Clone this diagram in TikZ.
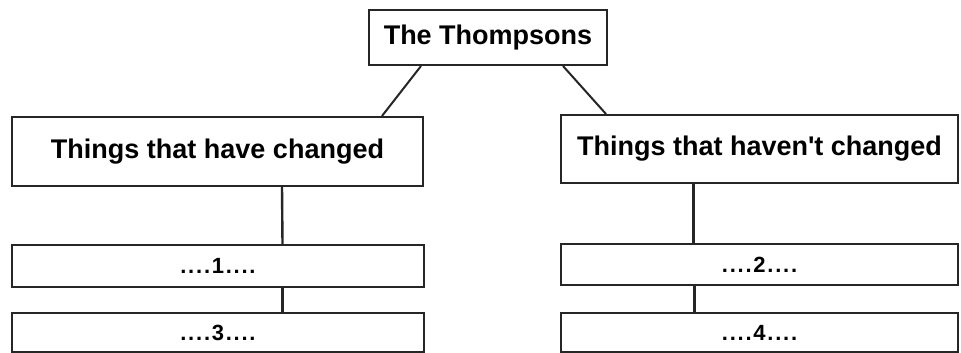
\documentclass[tikz,border=0pt]{standalone}
\usepackage{fontspec}
\setmainfont{Liberation Sans}
\newfontfamily\straightfont[Ligatures=TeXOff]{Liberation Sans}
\begin{document}
\begin{tikzpicture}[x=1pt,y=-1pt,
  box/.style={draw=black!85, line width=2pt, inner sep=0pt, fill=white, font=\bfseries},
  big/.style={box, font=\fontsize{27}{30}\selectfont\bfseries},
  small/.style={box, font=\fontsize{22}{24}\selectfont\bfseries\addfontfeature{LetterSpace=8}},
  link/.style={draw=black!85, line width=2pt},
  vlink/.style={draw=black!85, line width=2.4pt}]
\useasboundingbox (0,0) rectangle (961,353);
\node[big, minimum width=238pt, minimum height=55pt] (top) at (488,37.5) {The Thompsons};
\node[big, minimum width=411pt, minimum height=69pt] (lbig) at (217.5,151.5) {Things that have changed};
\node[big, minimum width=397pt, minimum height=68pt] (rbig) at (759.5,149) {\straightfont\bfseries Things that haven't changed};
\node[small, minimum width=412pt, minimum height=42pt] (b1) at (218,266) {....1....};
\node[small, minimum width=412pt, minimum height=39pt] (b3) at (218,332.5) {....3....};
\node[small, minimum width=397pt, minimum height=41pt] (b2) at (759.5,264.5) {....2....};
\node[small, minimum width=397pt, minimum height=39pt] (b4) at (759.5,332.5) {....4....};
\draw[link] ([xshift=53pt]top.south west) -- ([xshift=-42pt]lbig.north east);
\draw[link] ([xshift=-45pt]top.south east) -- ([xshift=46pt]rbig.north west);
\draw[vlink] ([xshift=64.5pt]lbig.south) -- ([xshift=64.5pt]b1.north);
\draw[vlink] ([xshift=64.5pt]b1.south) -- ([xshift=64.5pt]b3.north);
\draw[vlink] ([xshift=-66pt]rbig.south) -- ([xshift=-66pt]b2.north);
\draw[vlink] ([xshift=-65pt]b2.south) -- ([xshift=-65pt]b4.north);
\end{tikzpicture}
\end{document}
